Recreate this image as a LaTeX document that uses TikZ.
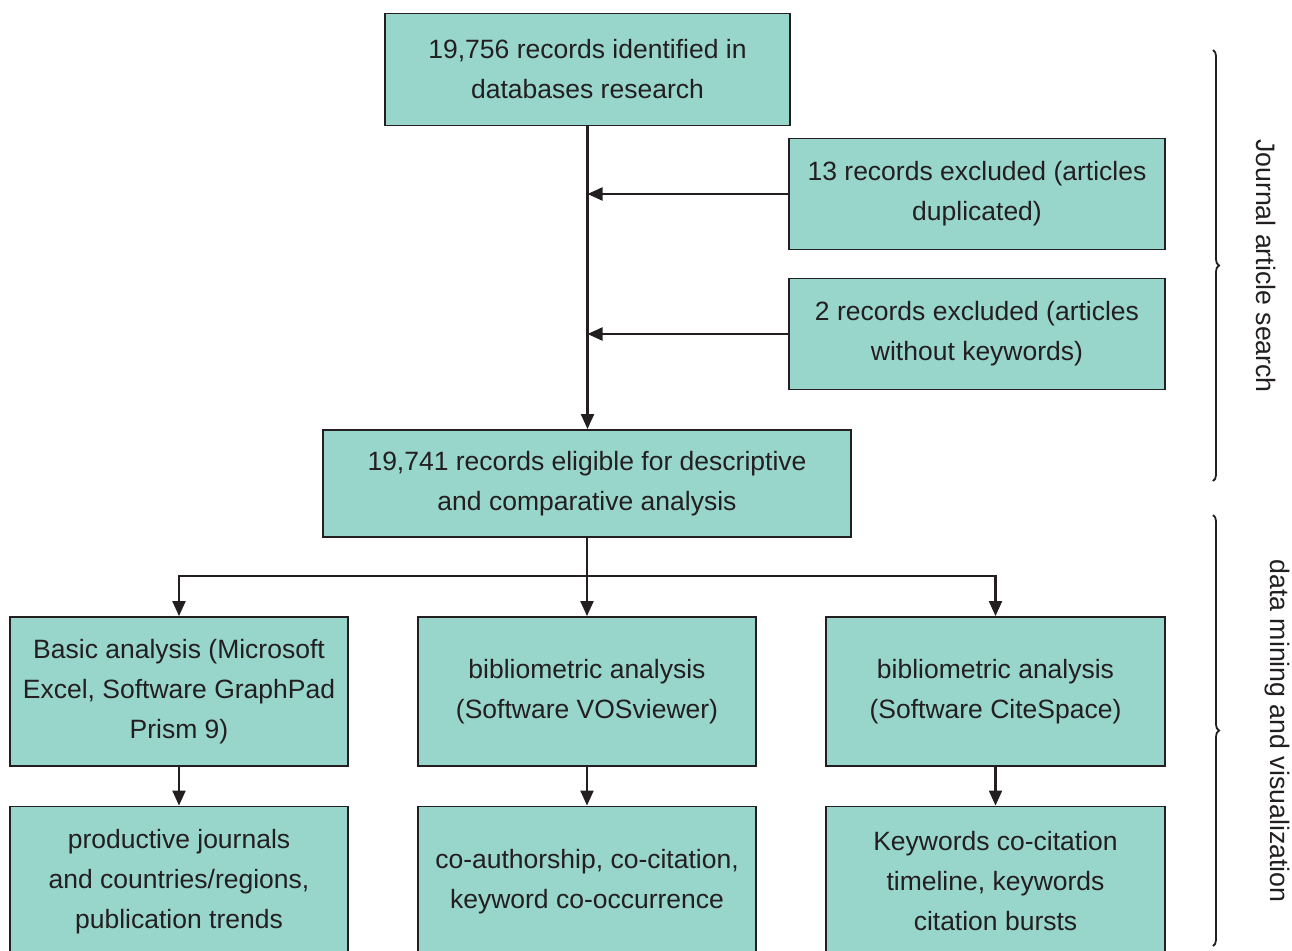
\documentclass[tikz,border=0pt]{standalone}
\usepackage{fontspec}
\setmainfont{Liberation Sans}
\usetikzlibrary{arrows.meta,decorations.pathreplacing}
\definecolor{boxteal}{RGB}{152,213,202}
\definecolor{inkgray}{RGB}{35,31,32}

\begin{document}
\begin{tikzpicture}[x=0.5pt,y=-0.5pt,
  box/.style={draw=inkgray, fill=boxteal, line width=0.95pt, align=center, inner sep=0pt,
    text=inkgray, font=\fontsize{13.25}{20}\selectfont},
  arr/.style={-{Triangle[length=7.5pt,width=6.5pt]}, line width=1.05pt, draw=inkgray},
  bracket/.style={draw=inkgray, line width=0.9pt, decorate, decoration={brace, amplitude=3pt}},
  sidelabel/.style={rotate=-90, text=inkgray, font=\fontsize{13.35}{16}\selectfont}]
\useasboundingbox (0,0) rectangle (1292,950);

% search stage
\node[box, minimum width=202.5pt, minimum height=56pt] (search) at (587.5,69.5)
  {19,756 records identified in\\databases research};
\node[box, minimum width=188pt, minimum height=55.5pt] (dupl) at (977,194)
  {13 records excluded (articles\\duplicated)};
\node[box, minimum width=188pt, minimum height=55.5pt] (nokey) at (977,334)
  {2 records excluded (articles\\without keywords)};
\node[box, minimum width=264pt, minimum height=53.5pt] (eligible) at (587,483.5)
  {19,741 records eligible for descriptive\\and comparative analysis};

% analysis tools
\node[box, minimum width=169pt, minimum height=74.5pt] (basic) at (179,691.5)
  {Basic analysis (Microsoft\\Excel, Software GraphPad\\Prism 9)};
\node[box, minimum width=169pt, minimum height=74.5pt] (vos) at (587,691.5)
  {bibliometric analysis\\(Software VOSviewer)};
\node[box, minimum width=169.5pt, minimum height=74.5pt] (cite) at (995.5,691.5)
  {bibliometric analysis\\(Software CiteSpace)};

% outputs (cut off at the page edge)
\node[box, minimum width=169pt, minimum height=75pt] (trends) at (179,881.5)
  {productive journals\\and countries/regions,\\publication trends};
\node[box, minimum width=169pt, minimum height=75pt] (network) at (587,881.5)
  {co-authorship, co-citation,\\keyword co-occurrence};
\node[box, minimum width=169.5pt, minimum height=75pt] (bursts) at (995.5,881.5)
  {Keywords co-citation\\timeline, keywords\\citation bursts};

% connectors
\draw[arr] (search.south) -- (search.south |- eligible.north);
\draw[arr] (dupl.west) -- (dupl.west -| search.south);
\draw[arr] (nokey.west) -- (nokey.west -| search.south);
\coordinate (split) at (587,576);
\draw[arr] (eligible.south) -- (vos.north);
\draw[arr] (split) -| (basic.north);
\draw[arr] (split) -| (cite.north);
\foreach \a/\b in {basic/trends, vos/network, cite/bursts}
  \draw[arr] (\a.south) -- (\b.north);

% side brackets
\draw[bracket] (1213,50) -- (1213,481);
\node[sidelabel] (searchlbl) at (1266,266) {Journal article search};
\draw[bracket] (1213,515) -- (1213,946);
\node[sidelabel] (minelbl) at (1277,731) {data mining and visualization};
\end{tikzpicture}
\end{document}
